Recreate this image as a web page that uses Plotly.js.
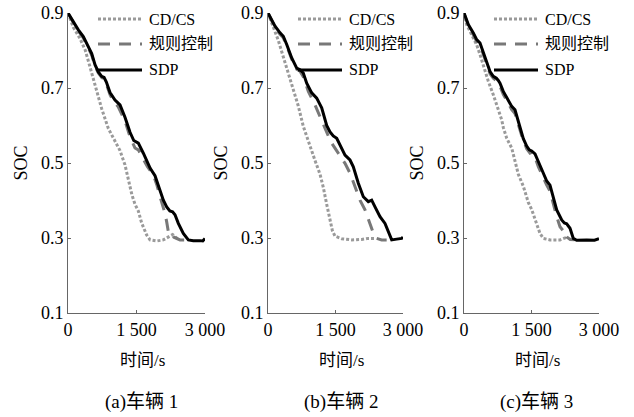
<!DOCTYPE html>
<html>
<head>
<meta charset="utf-8">
<script src="https://cdn.plot.ly/plotly-3.0.1.min.js"></script>
<style>html,body{margin:0;padding:0;background:#fff;}#chart{width:634px;height:417px;}</style>
</head>
<body>
<div id="chart"></div>
<script>
// ---------- data (time in s, SOC) ----------
const seriesNames = ['CD/CS', '规则控制', 'SDP'];
const captions = ['(a)车辆 1', '(b)车辆 2', '(c)车辆 3'];
const xTickVals = [0, 1500, 3000];
const xTickText = ['0', '1 500', '3 000'];
const yTickVals = [0.1, 0.3, 0.5, 0.7, 0.9];
const yTickText = ['0.1', '0.3', '0.5', '0.7', '0.9'];

// Vehicle 1
const cdT1 = [0,117,263,380,480,555,628,737,883,1029,1139,1248,1321,1400,1467,1540,1613,1723,1796,1942,2088,2234,2290,2400];
const cdS1 = [0.9,0.862,0.832,0.8,0.757,0.725,0.69,0.645,0.592,0.556,0.533,0.495,0.455,0.415,0.39,0.372,0.34,0.308,0.295,0.292,0.295,0.304,0.309,0.298];
const rbT1 = [0,153,226,335,409,519,591,664,737,790,840,920,993,1100,1248,1358,1467,1540,1650,1740,1869,1950,2015,2124,2161,2197,2234,2270,2320,2453,2600];
const rbS1 = [0.9,0.866,0.852,0.834,0.816,0.788,0.758,0.74,0.728,0.724,0.71,0.682,0.665,0.65,0.612,0.57,0.54,0.535,0.51,0.49,0.468,0.44,0.41,0.366,0.343,0.317,0.31,0.312,0.302,0.295,0.295];
const sdpT1 = [0,153,226,335,409,519,591,664,737,790,840,920,1029,1100,1139,1248,1358,1440,1500,1540,1650,1740,1800,1905,2015,2088,2161,2230,2290,2343,2416,2525,2635,2744,2890,2950,3000];
const sdpS1 = [0.9,0.868,0.855,0.837,0.82,0.792,0.762,0.743,0.731,0.728,0.716,0.688,0.668,0.66,0.655,0.622,0.582,0.56,0.556,0.553,0.526,0.5,0.486,0.466,0.428,0.401,0.383,0.372,0.37,0.362,0.339,0.312,0.295,0.293,0.293,0.292,0.299];

// Vehicle 2
const cdT2 = [0,118,229,340,451,562,673,784,860,933,1044,1156,1229,1304,1378,1430,1489,1637,1860,2082,2229,2378];
const cdS2 = [0.9,0.862,0.827,0.783,0.74,0.697,0.652,0.598,0.57,0.545,0.507,0.47,0.435,0.39,0.352,0.32,0.305,0.298,0.295,0.296,0.299,0.299];
const rbT2 = [0,156,267,340,416,527,638,711,784,896,1044,1229,1340,1415,1489,1600,1711,1822,1933,2044,2156,2267,2341,2415,2526,2637];
const rbS2 = [0.9,0.862,0.843,0.834,0.812,0.777,0.75,0.745,0.73,0.691,0.655,0.6,0.572,0.553,0.539,0.517,0.499,0.473,0.437,0.401,0.375,0.339,0.313,0.299,0.295,0.295];
const sdpT2 = [0,156,267,340,416,527,638,711,784,860,971,1082,1193,1304,1378,1450,1527,1600,1711,1822,1896,2007,2118,2229,2304,2378,2489,2600,2674,2749,2860,2971,3000];
const sdpS2 = [0.9,0.865,0.847,0.838,0.816,0.78,0.753,0.749,0.74,0.713,0.687,0.673,0.647,0.6,0.583,0.572,0.566,0.548,0.521,0.508,0.49,0.446,0.41,0.397,0.401,0.383,0.357,0.339,0.317,0.295,0.297,0.299,0.302];

// Vehicle 3
const cdT3 = [0,60,171,282,356,467,540,651,727,838,873,949,1060,1133,1207,1318,1429,1504,1578,1689,1762,1911,2133,2282];
const cdS3 = [0.9,0.869,0.842,0.815,0.789,0.744,0.718,0.682,0.655,0.615,0.595,0.566,0.54,0.505,0.47,0.438,0.395,0.376,0.348,0.312,0.299,0.295,0.295,0.302];
const rbT3 = [0,96,207,282,356,467,578,651,720,800,873,984,1060,1133,1207,1282,1393,1467,1504,1578,1651,1762,1838,1911,1984,2060,2133,2200,2244,2282,2360,2461];
const rbS3 = [0.9,0.866,0.842,0.824,0.815,0.778,0.738,0.726,0.72,0.705,0.683,0.66,0.642,0.632,0.6,0.573,0.538,0.526,0.528,0.515,0.49,0.46,0.441,0.425,0.39,0.357,0.33,0.32,0.321,0.303,0.296,0.295];
const sdpT3 = [0,96,207,282,356,467,578,651,720,762,800,873,984,1060,1133,1207,1282,1318,1393,1450,1504,1578,1651,1762,1838,1911,1984,2060,2171,2230,2282,2356,2429,2504,2727,2900,3000];
const sdpS3 = [0.9,0.869,0.847,0.829,0.82,0.784,0.744,0.731,0.726,0.72,0.713,0.691,0.669,0.651,0.642,0.611,0.584,0.565,0.545,0.535,0.532,0.524,0.504,0.473,0.452,0.441,0.41,0.375,0.348,0.34,0.338,0.326,0.299,0.294,0.295,0.294,0.298];

// ---------- styling ----------
const serif = 'Liberation Serif, Noto Sans CJK SC';
const styles = [
  {color: '#9a9a9a', width: 3, dash: '3px,2px'},
  {color: '#787878', width: 3, dash: '12px,9px'},
  {color: '#000000', width: 3, dash: 'solid'}
];
const panels = [
  [[cdT1, cdS1], [rbT1, rbS1], [sdpT1, sdpS1]],
  [[cdT2, cdS2], [rbT2, rbS2], [sdpT2, sdpS2]],
  [[cdT3, cdS3], [rbT3, rbS3], [sdpT3, sdpS3]]
];
const domains = [[68/634, 205/634], [268/634, 403/634], [464/634, 599/634]];

const traces = [];
panels.forEach((p, i) => {
  const sfx = i === 0 ? '' : String(i + 1);
  p.forEach((s, k) => {
    traces.push({
      type: 'scatter', mode: 'lines', x: s[0], y: s[1], name: seriesNames[k],
      xaxis: 'x' + sfx, yaxis: 'y' + sfx, showlegend: false,
      line: {color: styles[k].color, width: styles[k].width, dash: styles[k].dash}
    });
  });
});

const layout = {
  width: 634, height: 417,
  margin: {l: 0, r: 0, t: 13, b: 104},
  paper_bgcolor: '#fff', plot_bgcolor: '#fff',
  font: {family: serif, color: '#000'},
  showlegend: false,
  shapes: [], annotations: []
};

const legendRows = [0.98, 0.897, 0.81];
domains.forEach((d, i) => {
  const sfx = i === 0 ? '' : String(i + 1);
  layout['xaxis' + sfx] = {
    domain: d, range: [0, 3000], anchor: 'y' + sfx,
    tickvals: xTickVals, ticktext: xTickText,
    ticks: 'inside', ticklen: 3, tickcolor: '#666',
    showline: true, linecolor: '#666', linewidth: 1,
    showgrid: false, zeroline: false,
    tickfont: {family: serif, size: 18, color: '#000'}
  };
  layout['yaxis' + sfx] = {
    domain: [0, 1], range: [0.1, 0.9], anchor: 'x' + sfx,
    tickvals: yTickVals, ticktext: yTickText,
    ticks: 'inside', ticklen: 3, tickcolor: '#666',
    showline: true, linecolor: '#666', linewidth: 1,
    showgrid: false, zeroline: false,
    tickfont: {family: serif, size: 18, color: '#000'},
    title: {text: 'SOC', font: {family: serif, size: 18, color: '#000'}, standoff: 8}
  };
  const xr = 'x' + sfx + ' domain', yr = 'y' + sfx + ' domain';
  const w = (d[1] - d[0]) * 634;
  const x0 = 30 / w, x1 = 74 / w, xt = 79 / w;
  styles.forEach((st, k) => {
    layout.shapes.push({
      type: 'line', xref: xr, yref: yr, x0: x0, x1: x1, y0: legendRows[k], y1: legendRows[k],
      line: {color: st.color, width: st.width, dash: st.dash}
    });
    layout.annotations.push({
      xref: xr, yref: yr, x: xt, y: legendRows[k], xanchor: 'left', yanchor: 'middle',
      text: seriesNames[k], showarrow: false,
      font: {family: serif, size: 16, color: '#000'}
    });
  });
  layout.annotations.push({
    xref: xr, yref: 'paper', x: 0.5, y: -0.157, xshift: 6, xanchor: 'center', yanchor: 'middle',
    text: '时间/s', showarrow: false, font: {family: serif, size: 17, color: '#000'}
  });
  layout.annotations.push({
    xref: xr, yref: 'paper', x: 0.5, y: -0.297, xshift: 5, xanchor: 'center', yanchor: 'middle',
    text: captions[i], showarrow: false, font: {family: serif, size: 19, color: '#000'}
  });
});

Plotly.newPlot('chart', traces, layout, {staticPlot: true, displayModeBar: false});
</script>
</body>
</html>
